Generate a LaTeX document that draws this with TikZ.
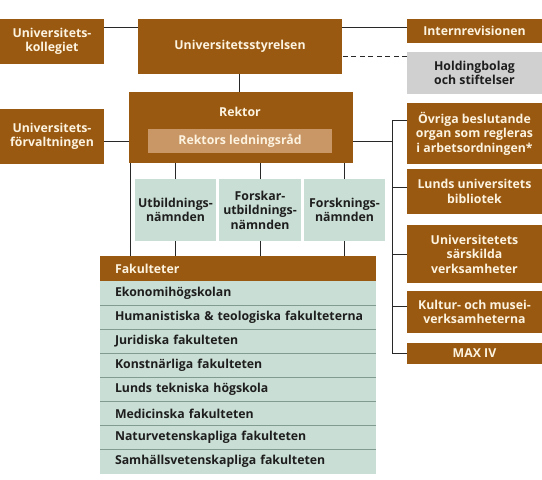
\documentclass[tikz,border=0pt]{standalone}
\usepackage{fontspec}
\setmainfont{Open Sans}
\definecolor{brn}{RGB}{154,89,16}
\definecolor{lbrn}{RGB}{201,150,102}
\definecolor{cream}{RGB}{252,243,224}
\definecolor{grn}{RGB}{201,222,212}
\definecolor{grnline}{RGB}{130,155,145}
\definecolor{gry}{RGB}{208,208,208}
\definecolor{ink}{RGB}{30,30,30}
\definecolor{conn}{RGB}{40,40,40}
\begin{document}
\begin{tikzpicture}[x=1pt,y=-1pt,
  base/.style={inner sep=0pt, outer sep=0pt, align=center, font=\bfseries\fontsize{12.3}{14.6}\selectfont},
  bbox/.style={base, fill=brn, text=cream},
  gbox/.style={base, fill=grn, text=ink},
  hbox/.style={base, fill=gry, text=ink},
  lbox/.style={base, fill=lbrn, text=cream},
  row/.style={base, fill=grn, text=ink, minimum width=276pt, minimum height=24.1pt, text width=246pt, align=left},
  conn/.style={draw=conn, line width=1pt}]
\useasboundingbox (0,0) rectangle (542,480);
% top row
\node[bbox, minimum width=104pt, minimum height=45pt] (koll) at (52,41.5) {Universitets-\\kollegiet};
\node[bbox, minimum width=204pt, minimum height=55pt] (styr) at (240,46.5) {Universitetsstyrelsen};
\node[bbox, minimum width=135pt, minimum height=24pt] (intern) at (474.5,31) {Internrevisionen};
\node[hbox, minimum width=135pt, minimum height=42pt] (hold) at (474.5,73) {Holdingbolag\\och stiftelser};
% rektor
\node[bbox, minimum width=224pt, minimum height=71pt] (rektor) at (241,127.5) {};
\node[base, text=cream] (rektortxt) at (240,112) {Rektor};
\node[lbox, minimum width=184pt, minimum height=24pt] (ledn) at (240,141) {Rektors ledningsråd};
\node[bbox, minimum width=104pt, minimum height=55pt] (forv) at (52,136.5) {Universitets-\\förvaltningen};
% right column
\node[bbox, minimum width=135pt, minimum height=61pt] (ovr) at (474.5,133.5) {Övriga beslutande\\organ som regleras\\i arbetsordningen*};
\node[bbox, minimum width=135pt, minimum height=45pt] (bib) at (474.5,191.5) {Lunds universitets\\bibliotek};
\node[bbox, minimum width=135pt, minimum height=58pt] (sars) at (474.5,254) {Universitetets\\särskilda\\verksamheter};
\node[bbox, minimum width=135pt, minimum height=42pt] (kult) at (474.5,312) {Kultur- och musei-\\verksamheterna};
\node[bbox, minimum width=135pt, minimum height=21pt] (max) at (474.5,353.5) {MAX IV};
% namnder
\node[gbox, minimum width=81pt, minimum height=62pt] (utb) at (175.5,210) {Utbildnings-\\nämnden};
\node[gbox, minimum width=82pt, minimum height=62pt] (fu) at (260,210) {Forskar-\\utbildnings-\\nämnden};
\node[gbox, minimum width=81pt, minimum height=62pt] (fn) at (344.5,210) {Forsknings-\\nämnden};
% fakulteter
\node[base, fill=brn, text=cream, minimum width=276pt, minimum height=25pt, text width=246pt, align=left] (fak) at (238,268.5) {Fakulteter};
\node[row, anchor=north] (r1) at (fak.south) {Ekonomihögskolan};
\node[row, anchor=north] (r2) at (r1.south) {\mbox{Humanistiska \& teologiska fakulteterna}};
\node[row, anchor=north] (r3) at (r2.south) {Juridiska fakulteten};
\node[row, anchor=north] (r4) at (r3.south) {Konstnärliga fakulteten};
\node[row, anchor=north] (r5) at (r4.south) {Lunds tekniska högskola};
\node[row, anchor=north] (r6) at (r5.south) {Medicinska fakulteten};
\node[row, anchor=north] (r7) at (r6.south) {Naturvetenskapliga fakulteten};
\node[row, anchor=north] (r8) at (r7.south) {Samhällsvetenskapliga fakulteten};
\foreach \i in {1,...,7} {\draw[grnline, line width=0.8pt] (r\i.south west) -- (r\i.south east);}
% connector points
\coordinate (kollc) at ([yshift=-8pt]koll.north east);
\coordinate (internc) at ([yshift=-8pt]intern.north west);
\coordinate (holdc) at ([yshift=-4pt]hold.north west);
\coordinate (styrc) at ([xshift=-1pt]styr.south);
\coordinate (bibc) at ([yshift=4pt]bib.west);
\coordinate (kultc) at ([yshift=6pt]kult.west);
\coordinate (leftc) at ([xshift=1pt]rektor.south west);
\coordinate (bus) at (392,120);
% connectors
\draw[conn] (kollc) -- (styr.west |- kollc);
\draw[conn] (styr.east |- internc) -- (internc);
\draw[conn, dash pattern=on 5pt off 3.5pt] (holdc) -- (styr.east |- holdc);
\draw[conn] (styrc) -- (styrc |- rektor.north);
\draw[conn] (forv.east |- ledn) -- (rektor.west |- ledn);
\draw[conn] (rektor.east |- ledn) -- (bus |- ledn);
\draw[conn] (ovr.west |- bus) -- (bus) -- (bus |- max.west) -- (max.west);
\draw[conn] (bibc) -- (bus |- bibc);
\draw[conn] (sars.west) -- (bus |- sars.west);
\draw[conn] (kultc) -- (bus |- kultc);
\foreach \n in {utb,fu,fn} {
  \draw[conn] (\n.north) -- (\n.north |- rektor.south);
  \draw[conn] (\n.south) -- (\n.south |- fak.north);
}
\draw[conn] (leftc) -- (leftc |- fak.north);
\end{tikzpicture}
\end{document}
